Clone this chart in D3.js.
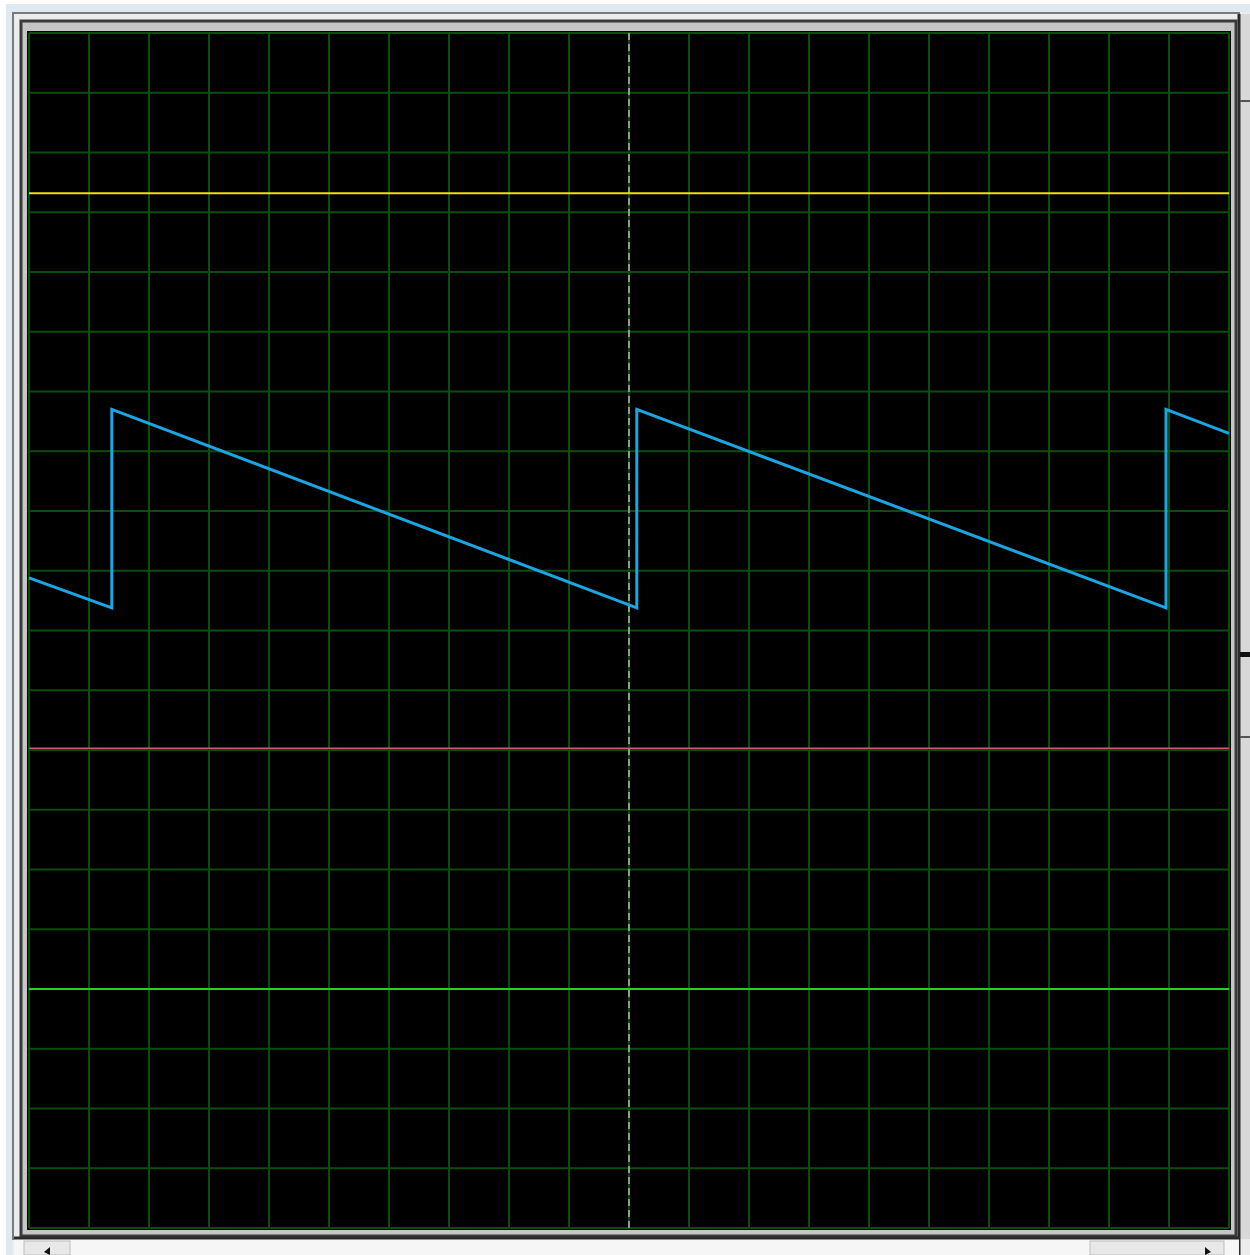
<!DOCTYPE html>
<html>
<head>
<meta charset="utf-8">
<script src="https://cdn.jsdelivr.net/npm/d3@7"></script>
<style>
  html, body { margin: 0; padding: 0; background: #ffffff; }
  svg { display: block; }
</style>
</head>
<body>
<svg id="scope" width="1250" height="1255"></svg>
<script>
// Screen divisions: 20 horizontal (time) x 20 vertical (volts/div, centred on 0)
const timeDivs = d3.range(0, 21);
const voltDivs = d3.range(-10, 11);

// Channel trace (sawtooth) corner points, in divisions
const traceTime = [0, 1.38, 1.38, 10.13, 10.13, 18.95, 18.95, 20];
const traceVolt = [0.88, 0.38, 3.70, 0.38, 3.70, 0.38, 3.70, 3.30];

// Reference / trigger levels, in divisions
const levelNames = ["upper", "reference", "lower"];
const levelValues = [7.32, -1.97, -6.0];
const levelColors = ["#e8e000", "#d0547a", "#1fd31f"];

// Trigger time marker
const triggerTime = [10];

const svg = d3.select("#scope");

// Window chrome
const chrome = svg.append("g");
chrome.append("rect").attr("x", 0).attr("y", 0).attr("width", 1250).attr("height", 1255).attr("fill", "#ffffff");
chrome.append("rect").attr("x", 6).attr("y", 4).attr("width", 1244).attr("height", 1251).attr("fill", "#dfe9f2");
chrome.append("rect").attr("x", 12).attr("y", 12).attr("width", 1238).attr("height", 1243).attr("fill", "#ececec");
chrome.append("rect").attr("x", 13).attr("y", 13).attr("width", 1226).attr("height", 1226)
  .attr("fill", "none").attr("stroke", "#7a7a7a").attr("stroke-width", 2);
chrome.append("rect").attr("x", 21).attr("y", 21).attr("width", 1215).attr("height", 1215)
  .attr("fill", "#c6c6c6").attr("stroke", "#3a3a3a").attr("stroke-width", 3);

// Right side strip and marker
chrome.append("rect").attr("x", 1240).attr("y", 14).attr("width", 10).attr("height", 1225).attr("fill", "#d8d8d8");
chrome.append("line").attr("x1", 1239).attr("x2", 1239).attr("y1", 14).attr("y2", 1255).attr("stroke", "#2a2a2a").attr("stroke-width", 3);
chrome.append("rect").attr("x", 1240).attr("y", 652).attr("width", 10).attr("height", 5).attr("fill", "#111");
chrome.append("rect").attr("x", 1240).attr("y", 100).attr("width", 10).attr("height", 2).attr("fill", "#555");
chrome.append("rect").attr("x", 1240).attr("y", 736).attr("width", 10).attr("height", 2).attr("fill", "#555");

// Bottom scrollbar
chrome.append("rect").attr("x", 14).attr("y", 1239).attr("width", 1225).attr("height", 16).attr("fill", "#f6f6f6");
chrome.append("line").attr("x1", 14).attr("x2", 1240).attr("y1", 1238).attr("y2", 1238).attr("stroke", "#2a2a2a").attr("stroke-width", 3);
chrome.append("rect").attr("x", 24).attr("y", 1241).attr("width", 46).attr("height", 14).attr("fill", "#e8e8e8").attr("stroke", "#bdbdbd");
chrome.append("rect").attr("x", 1090).attr("y", 1241).attr("width", 134).attr("height", 14).attr("fill", "#e8e8e8").attr("stroke", "#bdbdbd");
chrome.append("path").attr("d", "M44,1252 L50,1247 L50,1255 Z").attr("fill", "#111");
chrome.append("path").attr("d", "M1205,1247 L1211,1252 L1205,1255 Z").attr("fill", "#111");

// Scales
const x = d3.scaleLinear().domain([0, 20]).range([29, 1229]);
const y = d3.scaleLinear().domain([-10, 10]).range([1228, 33]);

// Screen background
svg.append("rect")
  .attr("x", x(0) - 2).attr("y", y(10) - 2)
  .attr("width", x(20) - x(0) + 4).attr("height", y(-10) - y(10) + 4)
  .attr("fill", "#000000");

// Graticule
const grid = svg.append("g").attr("stroke", "#0b4e0b").attr("stroke-width", 2);
grid.selectAll("line.v").data(timeDivs).join("line")
  .attr("class", "v")
  .attr("x1", d => x(d)).attr("x2", d => x(d))
  .attr("y1", y(10)).attr("y2", y(-10));
grid.selectAll("line.h").data(voltDivs).join("line")
  .attr("class", "h")
  .attr("x1", x(0)).attr("x2", x(20))
  .attr("y1", d => y(d)).attr("y2", d => y(d));

// Trigger marker (dashed)
svg.append("g").selectAll("line").data(triggerTime).join("line")
  .attr("x1", d => x(d)).attr("x2", d => x(d))
  .attr("y1", y(10)).attr("y2", y(-10))
  .attr("stroke", "#b8b8b8").attr("stroke-width", 1.5)
  .attr("stroke-dasharray", "7,4");

// Horizontal levels
svg.append("g").selectAll("line").data(levelValues).join("line")
  .attr("x1", x(0)).attr("x2", x(20))
  .attr("y1", d => y(d)).attr("y2", d => y(d))
  .attr("stroke", (d, i) => levelColors[i])
  .attr("stroke-width", (d, i) => i === 1 ? 1.6 : 2);

// Channel trace
const tracePoints = traceTime.map((t, i) => [t, traceVolt[i]]);
svg.append("path")
  .datum(tracePoints)
  .attr("d", d3.line().x(d => x(d[0])).y(d => y(d[1])))
  .attr("fill", "none")
  .attr("stroke", "#19a6e2")
  .attr("stroke-width", 3)
  .attr("stroke-linejoin", "miter");
</script>
</body>
</html>
